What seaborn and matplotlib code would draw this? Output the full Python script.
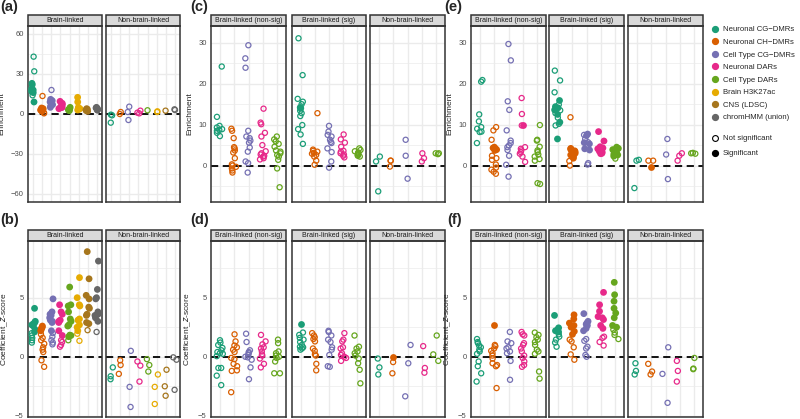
import numpy as np
import pandas as pd
import matplotlib
matplotlib.use("Agg")
import matplotlib.pyplot as plt
from matplotlib.lines import Line2D
from matplotlib.patches import Rectangle
from matplotlib.ticker import MultipleLocator
import seaborn as sns

ANNOT = ["Neuronal CG\u2212DMRs", "Neuronal CH\u2212DMRs", "Cell Type CG\u2212DMRs",
         "Neuronal DARs", "Cell Type DARs", "Brain H3K27ac", "CNS (LDSC)", "chromHMM (union)"]
ANNOT5 = ANNOT[:5]
COLORS = ["#1B9E77", "#D95F02", "#7570B3", "#E7298A", "#66A61E", "#E6AB02", "#A6761D", "#666666"]

# ---- (a) enrichment, all annotations ----
A_BRAIN_SIG = [[23, 22, 19, 18, 17, 16, 9], [4.5, 4, 3.5, 3, 3, 2.5, 2],
               [11, 10, 10, 9, 8, 7, 6, 5], [9.5, 8, 7, 6, 5, 5, 4.5, 4],
               [5, 4, 3.5, 3, 3, 2.5], [12.5, 9, 5, 4, 3.5, 3],
               [4, 3.5, 3, 2.5, 2, 3], [5, 4.5, 4, 3.5, 3, 3]]
A_BRAIN_NS = [[43, 32, 14], [13.5, 1, 0.5], [18], [], [], [], [], []]
A_NON_SIG = [[], [], [], [], [], [], [], []]
A_NON_NS = [[-0.5, -1, -6.5], [1.5, 0], [5.5, 1.5, -4.5], [2.5, 1, 0.5],
            [2.8], [1.5, 2], [2.5], [3.5, 3]]

# ---- (b) coefficient z-score, all annotations ----
B_BRAIN_SIG = [[4.1, 3.0, 2.9, 2.8, 2.7, 2.6, 2.3, 2.1], [2.6, 2.5, 2.4, 2.3, 2.2],
               [4.9, 3.8, 3.6, 3.5, 3.3, 3.1, 3.0, 2.9, 2.2],
               [4.4, 3.8, 3.6, 3.1, 3.0, 2.9, 2.2, 1.8],
               [5.9, 4.4, 4.3, 3.8, 3.2, 3.0, 2.7, 2.6, 1.8, 1.7],
               [6.7, 5.0, 4.4, 4.3, 3.2, 3.1, 2.7, 2.5, 2.2],
               [8.9, 6.6, 5.2, 4.9, 4.2, 4.1, 3.6, 3.5, 2.9, 2.8],
               [8.1, 5.7, 5.0, 4.9, 3.8, 3.6, 3.5, 3.3, 3.0]]
B_BRAIN_NS = [[2.0, 1.8, 1.6, 1.4, 1.2], [1.9, 1.6, 1.4, 1.1, 0.8, 0.6, 0.4, -0.3, -0.85],
              [2.0, 1.7, 1.4, 1.2, 1.05], [1.4, 1.25, 1.0, 0.85], [1.85, 1.4],
              [1.95, 1.35], [2.25], [2.1]]
B_NON_SIG = [[], [], [], [], [], [], [], []]
B_NON_NS = [[-0.9, -1.65, -1.9], [-0.3, -0.7, -1.45], [0.5, -2.55, -4.25],
            [-0.4, -0.75, -2.1], [-0.2, -0.7, -1.25], [-1.5, -2.55, -4.0],
            [-1.1, -2.5, -3.3], [-0.05, -0.25, -2.8]]

# ---- (c) enrichment, split by sig ----
C_NS_SIG = [[], [], [], [], []]
C_NS_NS = [[24.2, 11.9, 9.7, 9.3, 8.9, 8.7, 8.5, 8.0, 7.2],
           [9.0, 8.5, 6.7, 4.5, 4.2, 3.7, 3.2, 1.8, 0.3, 0, -0.3, -0.7, -1.2, -1.7],
           [29.4, 26.2, 23.9, 8.5, 7.1, 6.7, 6.1, 5.6, 4.4, 3.4, 1.0, 0.6, -1.7],
           [13.9, 10.5, 10.1, 8.0, 7.1, 5.0, 3.5, 3.0, 2.7, 2.4, 2.2, 1.8, 1.5],
           [7.1, 6.4, 5.9, 5.3, 4.6, 3.7, 3.4, 3.0, 2.6, 2.2, 1.4, -0.7, -5.3]]
C_SG_SIG = [[14.2, 14.0], [], [], [], []]
C_SG_NS = [[31.1, 22.1, 16.3, 15.6, 15.0, 13.4, 12.8, 12.1, 9.9, 8.9, 7.6, 5.3],
           [12.8, 3.9, 3.6, 3.4, 3.1, 2.9, 2.6, 2.2, 1.2, 0.2],
           [9.7, 8.3, 7.5, 7.1, 6.3, 5.8, 5.5, 4.2, 3.3, 1.0, -0.5],
           [7.6, 6.4, 5.6, 4.6, 3.6, 3.4, 3.0, 2.7, 2.4, 2.0],
           [4.2, 3.8, 3.5, 3.2, 3.0, 2.8, 2.6, 2.4, 2.2]]
C_NON_SIG = [[], [], [], [], []]
C_NON_NS = [[2.2, 1.0, -6.3], [1.2, 1.2, -0.25], [6.3, 2.4, -3.2],
            [3.0, 1.8, 1.0], [3.0, 3.0, 2.8]]

# ---- (d) coefficient z-score, split by sig ----
D_NS_SIG = [[], [], [], [], []]
D_NS_NS = [[1.4, 1.2, 1.0, 0.75, 0.55, 0.4, 0.3, 0.25, 0.05, -0.95, -0.95, -1.6, -2.4],
           [1.9, 1.3, 0.95, 0.8, 0.6, 0.4, -0.1, -0.2, -0.6, -0.8, -1.15, -1.2, -3.0],
           [1.95, 1.25, 0.55, 0.4, 0.3, 0.15, 0, -0.05, -0.25, -0.9, -1.9],
           [1.85, 1.3, 1.05, 0.8, 0.7, 0.45, 0.2, 0.1, -0.15, -0.6, -0.9],
           [1.45, 1.15, 0.45, 0.3, 0.1, 0, -0.1, -0.4, -1.4, -1.4]]
D_SG_SIG = [[2.8], [], [], [], []]
D_SG_NS = [[2.05, 1.85, 1.6, 1.45, 1.25, 1.0, 0.85, 0.8, 0.7, 0.6],
           [2.0, 1.8, 1.65, 1.5, 1.3, 0.7, 0.5, 0.2, 0.1, -0.6, -1.15],
           [2.2, 2.1, 1.8, 1.45, 1.25, 0.8, 0.6, 0.15, -0.8, -0.85],
           [2.0, 1.45, 1.3, 0.8, 0.7, 0.3, 0.15, 0, -0.1, -0.35],
           [1.8, 0.85, 0.7, 0.45, 0.3, 0.1, -0.15, -0.55, -1.1, -2.25]]
D_NON_SIG = [[], [0.0], [], [], []]
D_NON_NS = [[-0.15, -0.9, -1.5], [-0.45, -1.4], [1.0, -0.55, -3.35],
            [0.9, -0.95, -1.35], [1.8, 0.2, -0.35]]

# ---- (e) enrichment, split by sig (joint model) ----
E_NS_SIG = [[], [4.5, 4.3, 4.1, 3.9, 3.7], [], [10.0], []]
E_NS_NS = [[20.9, 20.5, 12.5, 10.8, 9.4, 9.0, 8.3, 8.2, 5.5],
           [9.4, 8.6, 6.3, 2.4, 1.8, 1.4, 0.25, -0.5, -1.0, -1.5, -2.0],
           [29.7, 25.7, 15.7, 13.6, 8.6, 6.1, 5.5, 4.9, 4.5, 3.8, 2.4, 0.2, -2.7],
           [16.5, 12.6, 9.8, 4.5, 4.1, 3.7, 3.3, 2.9, 2.2, 0.9],
           [9.9, 6.3, 6.1, 4.6, 3.7, 3.3, 2.7, 2.2, 1.6, 1.2, -4.3, -4.5]]
E_SG_SIG = [[15.9, 14.4, 14.1, 13.6, 12.5, 10.6, 6.5],
            [4.2, 4.0, 3.8, 3.6, 3.4, 3.2, 3.0, 2.8, 2.6, 2.4, 2.2, 1.8],
            [7.7, 7.3, 5.6, 5.3, 4.1, 3.8],
            [8.3, 6.0, 4.6, 4.3, 4.1, 3.8, 3.5, 3.3, 3.0, 2.9],
            [4.5, 4.2, 3.9, 3.6, 3.3, 3.0, 2.8, 2.6, 2.3]]
E_SG_NS = [[23.2, 20.8, 17.9, 14.9, 13.5, 12.8, 11.7, 10.2, 9.8], [11.8, 1.1, 0],
           [7.5, 6.5, 5.7, 4.9, 0.6, 0.25], [], [1.7]]
E_NON_SIG = [[], [-0.3], [], [], []]
E_NON_NS = [[1.4, 1.2, -5.5], [1.2, 1.2], [6.5, 2.7, -3.3], [3.0, 2.4, 1.2], [3.1, 3.0, 2.9]]

# ---- (f) coefficient z-score, split by sig (joint model) ----
F_NS_SIG = [[], [2.7], [], [], []]
F_NS_NS = [[1.5, 1.25, 1.15, 0.95, 0.8, 0.6, 0.45, 0.25, -0.4, -0.8, -1.4, -2.1],
           [1.0, 0.9, 0.7, 0.5, 0.3, 0.1, -0.15, -0.55, -0.7, -0.8, -2.65],
           [2.1, 1.3, 1.15, 0.8, 0.7, 0.45, 0.3, -0.35, -1.95],
           [2.1, 1.9, 1.8, 1.15, 1.0, 0.7, 0.45, 0.1, -0.1, -0.4, -0.7, -0.85],
           [2.05, 1.85, 1.65, 1.45, 1.25, 1.0, 0.6, 0.45, 0.25, -1.25, -1.85]]
F_SG_SIG = [[3.5, 2.45, 2.3, 2.2, 2.1], [3.55, 3.2, 2.85, 2.65, 2.5, 2.15, 1.9],
            [3.65, 3.0, 2.85, 2.75, 2.65, 2.4, 2.2],
            [5.45, 4.4, 3.85, 3.4, 3.3, 3.15, 2.65, 2.4],
            [6.3, 5.25, 4.7, 4.1, 3.7, 3.3, 2.65, 2.5]]
F_SG_NS = [[1.9, 1.7, 1.45, 1.2, 0.85], [1.45, 1.3, 0.8, 0.2, -0.25],
           [1.5, 1.35, 0.85, 0.7, 0.15, 0.0], [1.7, 1.6, 1.25, 0.95], [2.3, 2.05, 1.85, 1.5]]
F_NON_SIG = [[], [], [], [], []]
F_NON_NS = [[-0.55, -1.2, -1.5], [-0.6, -1.25, -1.5], [0.8, -1.45, -3.9],
            [-0.35, -1.2, -2.1], [-0.1, -1.0, -1.05]]

W, H = 800, 419
GRID = "#EBEBEB"
DARK = "#333333"


def to_frame(sig, ns, cats):
    rows = []
    for cat, vals in zip(cats, sig):
        rows += [(cat, v, True) for v in vals]
    for cat, vals in zip(cats, ns):
        rows += [(cat, v, False) for v in vals]
    return pd.DataFrame(rows, columns=["annot", "value", "sig"])


def px_axes(fig, x0, y0, x1, y1):
    return fig.add_axes([x0 / W, 1 - y1 / H, (x1 - x0) / W, (y1 - y0) / H])


def draw_facet(ax, df, cats, strip, ylim, major, first, ylabel):
    pal = dict(zip(cats, COLORS))
    ns = df[~df.sig]
    sg = df[df.sig]
    ax.axhline(0, color="black", ls=(0, (4, 2.5)), lw=1.3, zorder=2)
    if len(ns):
        n0 = len(ax.collections)
        sns.stripplot(data=ns, x="annot", y="value", hue="annot", order=cats,
                      hue_order=cats, palette=pal, jitter=0.22, size=3.7,
                      linewidth=0, legend=False, ax=ax, zorder=3)
        # open circles for non-significant results
        for coll in ax.collections[n0:]:
            fc = coll.get_facecolors()
            coll.set_edgecolors(fc)
            coll.set_facecolors("none")
            coll.set_linewidths(0.9)
    if len(sg):
        sns.stripplot(data=sg, x="annot", y="value", hue="annot", order=cats,
                      hue_order=cats, palette=pal, jitter=0.22, size=4.9,
                      linewidth=0, legend=False, ax=ax, zorder=4)
    n = len(cats)
    ax.set_xlim(-0.6, n - 0.4)
    ax.set_ylim(*ylim)
    ax.set_xticks(range(n))
    ax.set_xticklabels([])
    ax.yaxis.set_major_locator(MultipleLocator(major))
    ax.yaxis.set_minor_locator(MultipleLocator(major / 2))
    ax.set_axisbelow(True)
    ax.grid(True, which="major", axis="both", color=GRID, lw=1.0)
    ax.grid(True, which="minor", axis="y", color=GRID, lw=0.5)
    ax.tick_params(axis="x", length=0)
    ax.tick_params(axis="y", which="minor", length=0)
    ax.set_xlabel("")
    if first:
        ax.tick_params(axis="y", which="major", length=2, width=0.6, color=DARK,
                       labelsize=5.5, labelcolor="#4D4D4D", pad=1)
        ax.set_ylabel(ylabel, fontsize=6, labelpad=4)
    else:
        ax.tick_params(axis="y", which="major", length=0, labelleft=False)
        ax.set_ylabel("")
    ax.set_facecolor("white")
    for sp in ax.spines.values():
        sp.set_color(DARK)
        sp.set_linewidth(1.1)
    sh = 11 / (ax.get_position().height * H)
    ax.add_patch(Rectangle((0, 1), 1, sh, transform=ax.transAxes, clip_on=False,
                           facecolor="#D9D9D9", edgecolor=DARK, lw=1.1))
    ax.text(0.5, 1 + sh / 2, strip, transform=ax.transAxes, ha="center",
            va="center", fontsize=5, color="#1A1A1A")


sns.set_theme(style="white")
plt.rcParams["font.family"] = ["Liberation Sans", "DejaVu Sans"]
plt.rcParams["axes.unicode_minus"] = True
np.random.seed(3)

fig = plt.figure(figsize=(W / 100, H / 100), dpi=100)

ENR = r"Enrichment"
ZSC = r"Coefficient_$\it{z}$-score"
top, bot = (26, 202), (241, 417)
cols2 = [(28, 102), (106, 180)]
cols_c = [(211, 286), (292, 366), (370, 445)]
cols_e = [(471, 546), (549, 624), (628, 703)]
strips2 = ["Brain-linked", "Non-brain-linked"]
strips3 = ["Brain-linked (non-sig)", "Brain-linked (sig)", "Non-brain-linked"]

panels = [
    (cols2, top, [(A_BRAIN_SIG, A_BRAIN_NS), (A_NON_SIG, A_NON_NS)], ANNOT, strips2, (-66, 66), 30, ENR),
    (cols2, bot, [(B_BRAIN_SIG, B_BRAIN_NS), (B_NON_SIG, B_NON_NS)], ANNOT, strips2, (-5.1, 9.8), 5, ZSC),
    (cols_c, top, [(C_NS_SIG, C_NS_NS), (C_SG_SIG, C_SG_NS), (C_NON_SIG, C_NON_NS)], ANNOT5, strips3, (-8.9, 34.1), 10, ENR),
    (cols_c, bot, [(D_NS_SIG, D_NS_NS), (D_SG_SIG, D_SG_NS), (D_NON_SIG, D_NON_NS)], ANNOT5, strips3, (-5.1, 9.8), 5, ZSC),
    (cols_e, top, [(E_NS_SIG, E_NS_NS), (E_SG_SIG, E_SG_NS), (E_NON_SIG, E_NON_NS)], ANNOT5, strips3, (-8.9, 34.1), 10, ENR),
    (cols_e, bot, [(F_NS_SIG, F_NS_NS), (F_SG_SIG, F_SG_NS), (F_NON_SIG, F_NON_NS)], ANNOT5, strips3, (-5.1, 9.8), 5, ZSC),
]

for cols, rows, facets, cats, strips, ylim, major, ylab in panels:
    for i, ((x0, x1), (sig, ns), strip) in enumerate(zip(cols, facets, strips)):
        ax = px_axes(fig, x0, rows[0], x1, rows[1])
        draw_facet(ax, to_frame(sig, ns, cats), cats, strip, ylim, major, i == 0, ylab)

for tag, x, y in [("(a)", 0, 0), ("(c)", 190, 0), ("(e)", 444, 0),
                  ("(b)", 0, 213), ("(d)", 190, 213), ("(f)", 447, 213)]:
    fig.text(x / W, 1 - y / H, tag, fontsize=10.5, fontweight="bold", ha="left", va="top")

ann_handles = [Line2D([], [], ls="", marker="o", ms=4.2, color=c, label=l)
               for c, l in zip(COLORS, ANNOT)]
sig_handles = [Line2D([], [], ls="", marker="o", ms=4.2, mfc="none", mec="black",
                      mew=0.8, label="Not significant"),
               Line2D([], [], ls="", marker="o", ms=4.2, color="black", label="Significant")]
fig.legend(handles=ann_handles, loc="upper left", bbox_to_anchor=(711 / W, 1 - 26 / H),
           frameon=False, fontsize=5.6, handlelength=1.1, handletextpad=0.4,
           labelspacing=0.66, borderaxespad=0, borderpad=0)
fig.legend(handles=sig_handles, loc="upper left", bbox_to_anchor=(711 / W, 1 - 135 / H),
           frameon=False, fontsize=5.6, handlelength=1.1, handletextpad=0.4,
           labelspacing=0.95, borderaxespad=0, borderpad=0)

fig.savefig("out.png", dpi=100)
